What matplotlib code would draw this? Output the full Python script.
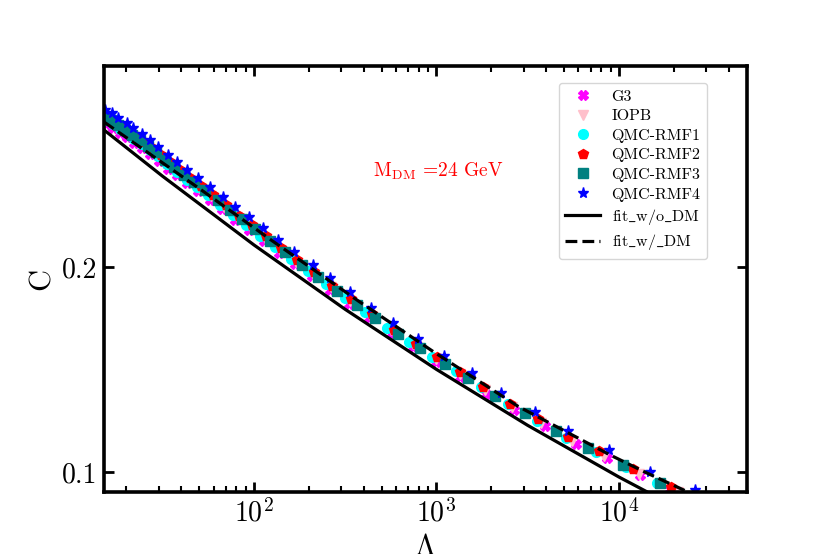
import matplotlib
matplotlib.use('Agg')
import matplotlib.pyplot as plt

plt.rcParams['font.family'] = ['cmr10', 'DejaVu Serif']
plt.rcParams['mathtext.fontset'] = 'cm'
plt.rcParams['axes.formatter.use_mathtext'] = True
plt.rcParams['axes.unicode_minus'] = False

# ---------------- data (Lambda, C) ----------------
lam_g3 = [15.45, 16.88, 18.44, 20.14, 22.00, 24.34, 26.92, 30.17, 33.80, 37.85, 42.96, 49.33, 57.41, 66.79,
          78.70, 93.89, 113.4, 137.1, 167.8, 207.9, 260.9, 331.5, 426.7, 563.2, 743.2, 993.8, 1345, 1867,
          2659, 3931, 5813, 8598, 13036, 19035]
c_g3 = [0.2695, 0.2677, 0.2652, 0.2632, 0.2606, 0.2578, 0.2551, 0.2516, 0.2479, 0.2447, 0.2408, 0.2370, 0.2328,
        0.2282, 0.2229, 0.2182, 0.2125, 0.2068, 0.2014, 0.1954, 0.1886, 0.1821, 0.1750, 0.1675, 0.1608, 0.1536,
        0.1464, 0.1381, 0.1300, 0.1222, 0.1138, 0.1066, 0.0983, 0.0916]

lam_iopb = [15.65, 17.10, 18.67, 20.40, 22.28, 24.65, 27.27, 30.55, 34.21, 38.34, 43.49, 49.95, 58.14, 68.48,
            80.68, 96.29, 114.9, 138.8, 169.9, 210.6, 264.2, 335.7, 432.1, 563.2, 743.2, 993.8, 1345, 1844,
            2593, 3738, 5527, 8277, 12873, 21052]
c_iopb = [0.2717, 0.2698, 0.2674, 0.2652, 0.2627, 0.2599, 0.2572, 0.2536, 0.2500, 0.2465, 0.2427, 0.2386, 0.2344,
          0.2294, 0.2242, 0.2192, 0.2139, 0.2082, 0.2025, 0.1967, 0.1900, 0.1835, 0.1763, 0.1692, 0.1622, 0.1550,
          0.1479, 0.1400, 0.1318, 0.1238, 0.1152, 0.1078, 0.0990, 0.0904]

lam_rmf1 = [15.45, 16.88, 18.44, 20.14, 22.00, 24.34, 26.92, 29.79, 33.37, 37.85, 42.96, 48.72, 55.97, 65.12,
            76.73, 90.40, 107.9, 130.3, 159.5, 197.7, 248.0, 315.2, 405.7, 535.6, 707.0, 944.8, 1279, 1753,
            2465, 3554, 5124, 7482, 10925, 16150]
c_rmf1 = [0.2715, 0.2696, 0.2672, 0.2651, 0.2625, 0.2598, 0.2571, 0.2539, 0.2503, 0.2464, 0.2425, 0.2389, 0.2350,
          0.2304, 0.2252, 0.2205, 0.2153, 0.2096, 0.2038, 0.1982, 0.1916, 0.1850, 0.1779, 0.1703, 0.1633, 0.1560,
          0.1491, 0.1412, 0.1329, 0.1249, 0.1167, 0.1097, 0.1023, 0.0948]

lam_rmf2 = [15.85, 17.31, 18.91, 20.66, 22.56, 24.96, 27.61, 30.93, 34.65, 39.31, 44.61, 51.24, 59.61, 70.23,
            82.77, 97.50, 116.4, 140.6, 172.0, 213.2, 267.6, 340.1, 443.2, 584.9, 772.1, 1006, 1345, 1798,
            2527, 3599, 5254, 7769, 11932, 19275]
c_rmf2 = [0.2729, 0.2708, 0.2685, 0.2663, 0.2638, 0.2610, 0.2582, 0.2547, 0.2510, 0.2472, 0.2434, 0.2394, 0.2351,
          0.2300, 0.2249, 0.2203, 0.2149, 0.2093, 0.2036, 0.1976, 0.1909, 0.1844, 0.1769, 0.1694, 0.1625, 0.1560,
          0.1488, 0.1416, 0.1333, 0.1257, 0.1172, 0.1100, 0.1016, 0.0928]

lam_rmf3 = [15.27, 16.46, 17.98, 19.64, 21.45, 23.73, 26.26, 29.04, 32.53, 36.44, 41.34, 46.91, 53.89, 63.48,
            73.86, 85.96, 101.3, 122.4, 147.9, 183.2, 224.3, 285.0, 366.7, 460.3, 615.2, 812.1, 1113, 1488,
            2092, 3054, 4516, 6762, 10517, 16774]
c_rmf3 = [0.2729, 0.2715, 0.2690, 0.2669, 0.2645, 0.2617, 0.2590, 0.2560, 0.2523, 0.2488, 0.2449, 0.2412, 0.2373,
          0.2324, 0.2277, 0.2232, 0.2184, 0.2127, 0.2071, 0.2011, 0.1953, 0.1884, 0.1815, 0.1751, 0.1674, 0.1605,
          0.1527, 0.1456, 0.1370, 0.1285, 0.1198, 0.1118, 0.1034, 0.0944]

lam_rmf4 = [15.27, 16.61, 18.05, 20.07, 21.81, 24.25, 26.92, 29.89, 33.92, 37.71, 43.10, 49.53, 57.4, 67.4,
            78.7, 94.2, 112.5, 135.9, 166.3, 209.7, 260.8, 335.7, 437.6, 579.8, 795, 1103, 1559, 2257, 3465,
            5275, 8847, 14790, 26090]
c_rmf4 = [0.2766, 0.2750, 0.2725, 0.2701, 0.2677, 0.2647, 0.2620, 0.2587, 0.2546, 0.2514, 0.2473, 0.2433, 0.2392,
          0.2343, 0.2293, 0.2242, 0.2189, 0.2132, 0.2075, 0.2010, 0.1945, 0.1877, 0.1801, 0.1725, 0.1647, 0.1566,
          0.1481, 0.1387, 0.1294, 0.1200, 0.1105, 0.1001, 0.0912]

lam_fit_wo = [15.07, 31.6, 100, 316, 1000, 3162, 10000, 19953]
c_fit_wo = [0.2668, 0.2442, 0.2107, 0.1793, 0.1500, 0.1227, 0.0975, 0.0834]

lam_fit_w = [15.07, 50.6, 122.4, 371.5, 944.8, 2796, 8927, 13880, 23880, 35760]
c_fit_w = [0.2707, 0.2380, 0.2135, 0.1835, 0.1591, 0.1320, 0.1083, 0.0999, 0.0902, 0.0834]

x_ticks = [100, 1000, 10000]
y_ticks = [0.1, 0.2]
y_ticklabels = ['0.1', '0.2']

# ---------------- figure ----------------
fig = plt.figure(figsize=(8.3, 5.54), dpi=100)
ax = fig.add_axes([104 / 830, 1 - 492 / 554, 643 / 830, 426 / 554])

ms = 7
ax.plot(lam_g3, c_g3, linestyle='none', marker='X', color='magenta', ms=ms, label='G3')
ax.plot(lam_iopb, c_iopb, linestyle='none', marker='v', color='pink', ms=ms, label='IOPB')
ax.plot(lam_rmf1, c_rmf1, linestyle='none', marker='o', color='cyan', ms=ms, label='QMC-RMF1')
ax.plot(lam_rmf2, c_rmf2, linestyle='none', marker='p', color='red', ms=ms, label='QMC-RMF2')
ax.plot(lam_rmf3, c_rmf3, linestyle='none', marker='s', color='teal', ms=ms, label='QMC-RMF3')
ax.plot(lam_rmf4, c_rmf4, linestyle='none', marker='*', color='blue', ms=ms + 1, label='QMC-RMF4')

ax.plot(lam_fit_wo, c_fit_wo, color='black', lw=2.3, ls='-', label=r'fit$\_$w/o$\_$DM')
ax.plot(lam_fit_w, c_fit_w, color='black', lw=2.3, ls='--', label=r'fit$\_$w/$\_$DM')

ax.set_xscale('log')
ax.set_xlim(15.07, 50300)
ax.set_ylim(0.0902, 0.2980)
ax.set_yticks(y_ticks)
ax.set_yticklabels(y_ticklabels)
ax.set_xticks(x_ticks)

ax.tick_params(which='both', direction='in', top=True, right=True, labelsize=20, pad=5)
ax.tick_params(which='major', length=7, width=2)
ax.tick_params(which='minor', length=4.5, width=1.5)
ax.tick_params(axis='y', which='minor', left=False, right=False)
for sp in ax.spines.values():
    sp.set_linewidth(2.6)

ax.set_xlabel(r'$\Lambda$', fontsize=22)
ax.set_ylabel('C', fontsize=22)

ax.text(448.6, 0.2439, r'$\mathrm{M_{DM}}$ =24 GeV', color='red', fontsize=14)

leg = ax.legend(loc='upper right', bbox_to_anchor=(0.9378, 0.9601), borderaxespad=0,
                fontsize=11.5, handlelength=2.2, handletextpad=0.7, labelspacing=0.34, frameon=True)

fig.savefig('out.png', dpi=100)
